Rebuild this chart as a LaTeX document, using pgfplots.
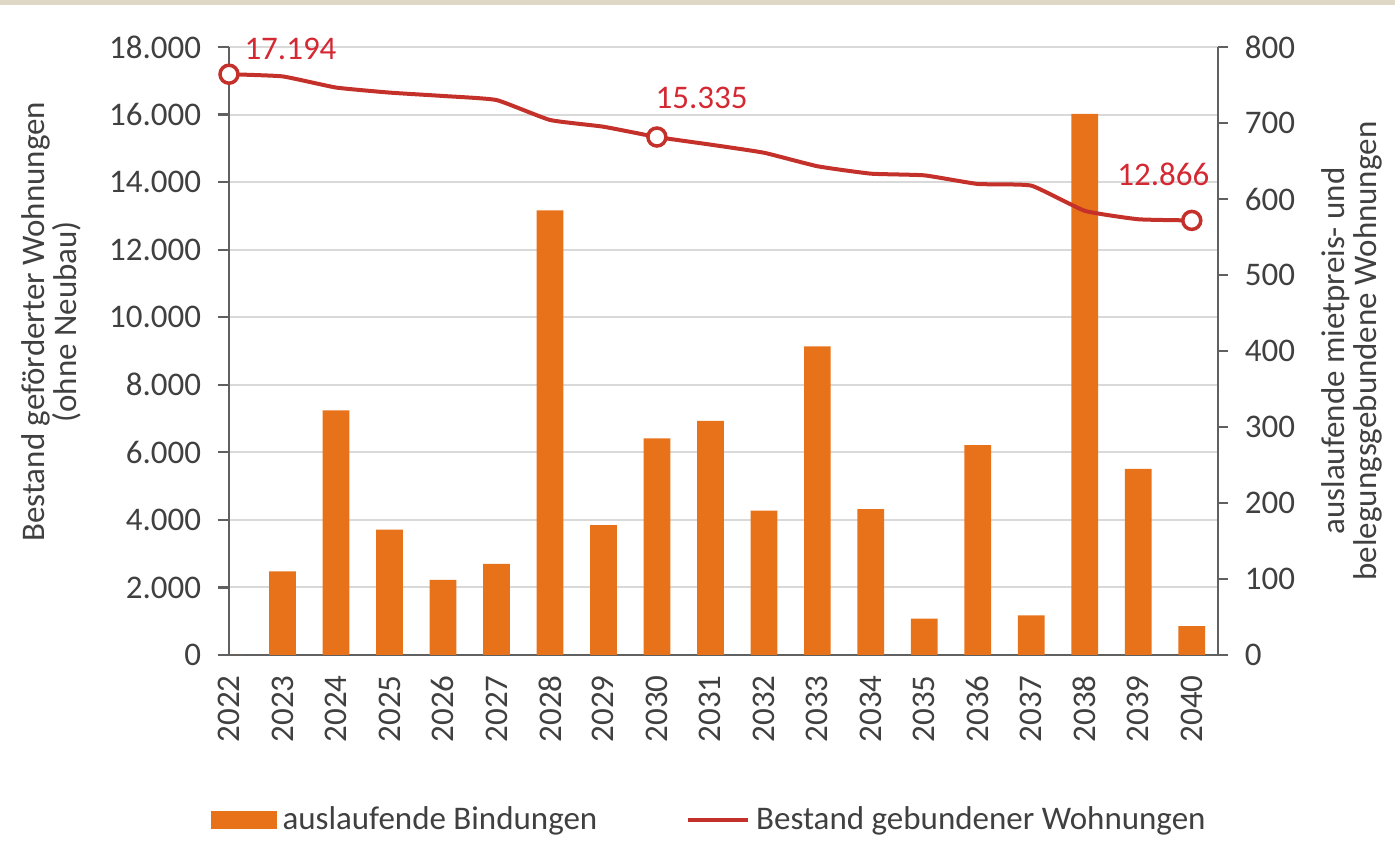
\documentclass[border=0pt]{standalone}
\usepackage{fontspec}
\setmainfont{Carlito}
\usepackage{pgfplots}
\pgfplotsset{compat=1.18}
\definecolor{barorange}{RGB}{232,114,26}
\definecolor{linered}{RGB}{196,48,42}
\definecolor{labred}{RGB}{212,40,50}
\definecolor{axgray}{RGB}{96,96,96}
\definecolor{gridgray}{RGB}{217,217,217}
\definecolor{txtgray}{RGB}{64,64,64}
\definecolor{beige}{RGB}{224,216,198}
\pgfplotstableread{
year bind
2022 0
2023 110
2024 322
2025 165
2026 99
2027 120
2028 585
2029 171
2030 285
2031 308
2032 190
2033 406
2034 192
2035 48
2036 276
2037 52
2038 712
2039 245
2040 38
}\bindtab
\pgfplotstableread{
year best
2022 17194
2023 17130
2024 16800
2025 16650
2026 16550
2027 16430
2028 15840
2029 15640
2030 15335
2031 15110
2032 14870
2033 14470
2034 14250
2035 14200
2036 13945
2037 13895
2038 13150
2039 12900
2040 12866
}\besttab
\pgfplotsset{
  mybase/.style={
    width=395.6pt, height=243.2pt, scale only axis,
    at={(91.6pt,-262pt)}, anchor=south west,
    xmin=2022, xmax=2040.49,
    /pgf/number format/assume math mode=true,
    tick label style={font=\fontsize{13.2}{15}\selectfont, text=txtgray},
    label style={font=\fontsize{13.2}{12.8}\selectfont, text=txtgray},
  },
}
\begin{document}
\begin{tikzpicture}
\useasboundingbox (0,0) rectangle (558pt,-344pt);
\fill[beige] (0,0) rectangle (558pt,-2.2pt);
% axis A: left axis, grid, x labels
\begin{axis}[mybase,
  ymin=0, ymax=18000, ytick={0,2000,...,18000},
  scaled y ticks=false,
  ymajorgrids, grid style={gridgray, line width=0.8pt},
  axis x line*=bottom, axis y line*=left,
  axis line style={axgray, line width=0.9pt},
  xtick={2022,...,2040},
  x tick label style={rotate=90, anchor=east, /pgf/number format/1000 sep={}},
  y tick label style={/pgf/number format/1000 sep={.}, xshift=-3pt},
  major x tick style={draw=none},
  tick align=outside, major tick length=4.6pt,
  y tick style={axgray, line width=0.9pt},
  ylabel={Bestand geförderter Wohnungen\\(ohne Neubau)},
  ylabel style={align=center, at={(axis description cs:-0.18,0.548)}, anchor=center},
]
\addplot[draw=none] coordinates {(2022,0)};
\end{axis}
% axis B: bars on right axis
\begin{axis}[mybase,
  ymin=0, ymax=800, ytick={0,100,...,800},
  axis y line*=right, axis x line=none,
  axis line style={axgray, line width=0.9pt},
  y tick label style={xshift=3pt},
  tick align=outside, major tick length=4.2pt,
  y tick style={axgray, line width=0.9pt},
  ylabel={auslaufende mietpreis- und\\belegungsgebundene Wohnungen},
  ylabel style={align=center, at={(axis description cs:1.1355,0.5)}, anchor=center},
]
\addplot[ybar, bar width=0.5, fill=barorange, draw=none] table[x=year, y=bind] {\bindtab};
\end{axis}
% axis C: line
\begin{axis}[mybase,
  ymin=0, ymax=18000, hide axis, clip=false,
  legend columns=2,
  legend style={draw=none, fill=none, inner sep=0pt,
    at={(axis description cs:-0.0192,-0.2714)}, anchor=west,
    font=\fontsize{13.2}{15}\selectfont, text=txtgray,
    nodes={inner sep=0pt},
    /tikz/every odd column/.style={column sep=2.4pt},
    /tikz/every even column/.style={column sep=35.5pt}},
]
\addlegendimage{legend image code/.code={\fill[barorange] (0pt,-3.4pt) rectangle (26pt,3.4pt);}}
\addlegendentry{auslaufende Bindungen}
\addlegendimage{legend image code/.code={\draw[linered, line width=1.6pt] (0pt,0pt) -- (24pt,0pt);}}
\addlegendentry{Bestand gebundener Wohnungen}
\addplot[linered, line width=1.6pt, smooth, tension=0.25, forget plot] table[x=year, y=best] {\besttab};
\addplot[only marks, mark=*, mark size=3.6pt, mark options={fill=white, draw=linered, line width=1.4pt}, forget plot]
  coordinates {(2022,17194) (2030,15335) (2040,12866)};
\node[anchor=base west, inner sep=0pt, text=labred, font=\fontsize{13.2}{15}\selectfont, xshift=6pt, yshift=5.7pt] at (axis cs:2022,17194) {17.194};
\node[anchor=base west, inner sep=0pt, text=labred, font=\fontsize{13.2}{15}\selectfont, xshift=-0.7pt, yshift=11.6pt] at (axis cs:2030,15335) {15.335};
\node[anchor=base west, inner sep=0pt, text=labred, font=\fontsize{13.2}{15}\selectfont, xshift=-30pt, yshift=14pt] at (axis cs:2040,12866) {12.866};
\end{axis}
\end{tikzpicture}
\end{document}
